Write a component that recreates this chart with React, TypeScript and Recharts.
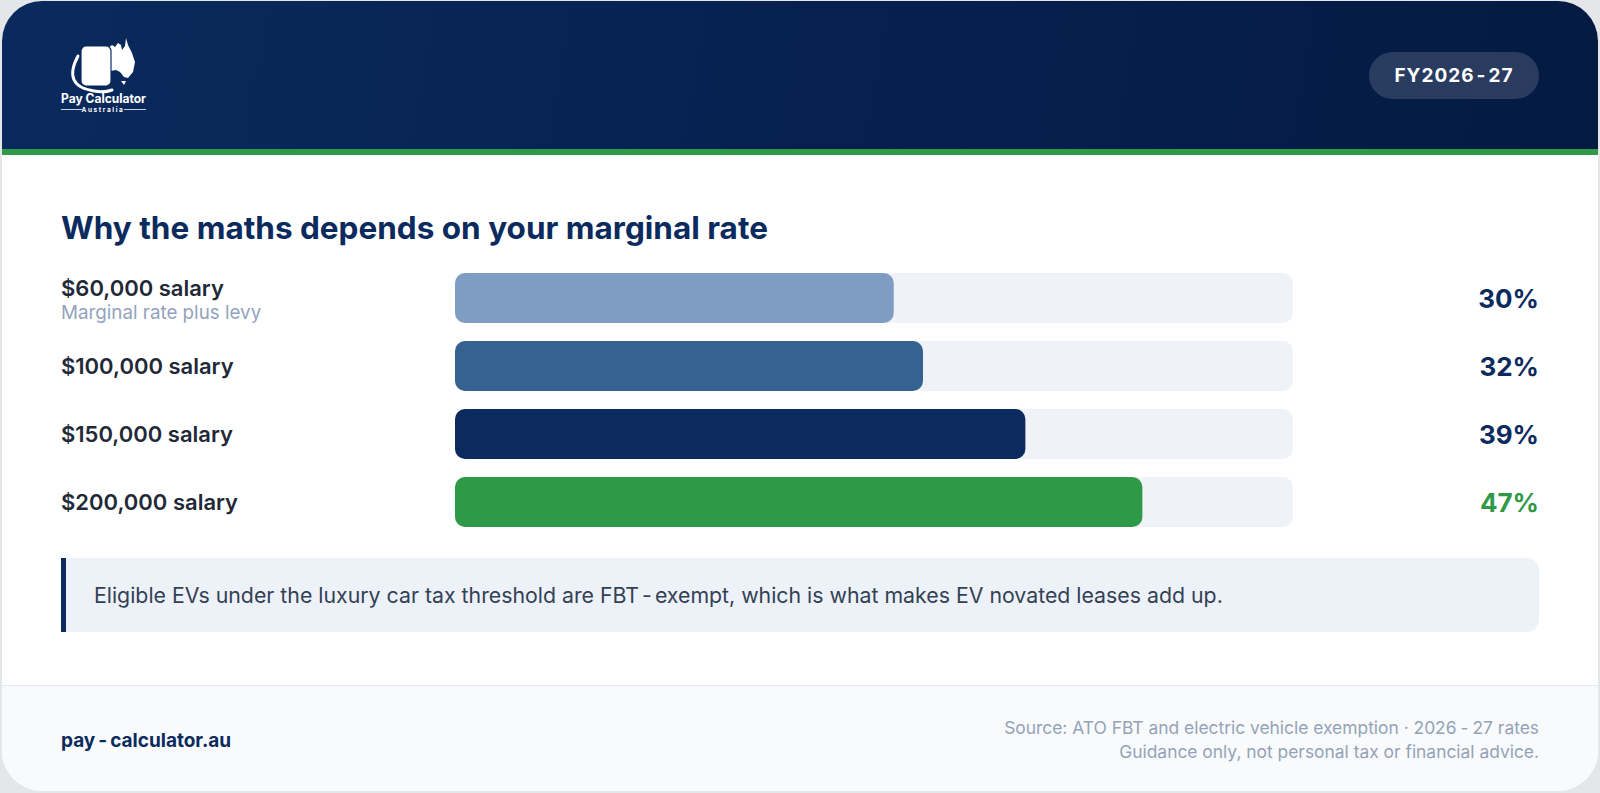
import { BarChart, Bar, XAxis, YAxis, Cell } from "recharts";

// salary bands and their marginal rate (incl. Medicare levy)
const SALARIES = ["$60,000 salary", "$100,000 salary", "$150,000 salary", "$200,000 salary"];
const SUBLABELS = ["Marginal rate plus levy", "", "", ""];
const RATES = [30, 32, 39, 47];
const RATE_MAX = 57.3;

const BAR_COLORS = ["#7f9dc2", "#356291", "#0b2a5e", "#2e9a48"];
const VALUE_COLORS = ["#0b2a5e", "#0b2a5e", "#0b2a5e", "#2e9a48"];

const rows = SALARIES.map((name, i) => ({
  name,
  rate: RATES[i],
  label: `${RATES[i]}%`,
}));

const FONT = "Inter, 'Noto Sans', sans-serif";
const LEFT_W = 394;
const RIGHT_W = 246;

// hyphen with a little air around it
const Dash = ({ gap = 3 }: { gap?: number }) => (
  <span style={{ margin: `0 ${gap}px` }}>-</span>
);

const SalaryTick = (props: any) => {
  const { x, y, payload } = props;
  const i = props.index ?? payload.index;
  const sub = SUBLABELS[i];
  return (
    <g>
      <text
        x={x - LEFT_W}
        y={sub ? y - 10 : y}
        dominantBaseline="central"
        fontFamily={FONT}
        fontSize={22}
        fontWeight={600}
        fill="#1f2937"
      >
        {payload.value}
      </text>
      {sub && (
        <text
          x={x - LEFT_W}
          y={y + 14}
          dominantBaseline="central"
          fontFamily={FONT}
          fontSize={18.8}
          fill="#93a3bd"
        >
          {sub}
        </text>
      )}
    </g>
  );
};

const RateTick = (props: any) => {
  const { x, y, payload } = props;
  const i = props.index ?? payload.index;
  return (
    <text
      x={x + RIGHT_W}
      y={y}
      textAnchor="end"
      dominantBaseline="central"
      fontFamily={FONT}
      fontSize={26}
      fontWeight={700}
      fill={VALUE_COLORS[i]}
    >
      {payload.value}
    </text>
  );
};

function Logo() {
  return (
    <svg
      width={1596}
      height={148}
      viewBox="2 1 1596 148"
      style={{ position: "absolute", left: 0, top: 0 }}
    >
      <path
        d="M99 58 L102 52 L108 48 L112 45 L115 47 L118 43 L121 45 L122 50 L125 46 L126 38 L128 45 L132 53 L135 62 L133 72 L128 78 L124 77 L120 72 L116 70 L110 71 L104 74 L100 72 L98 65 Z"
        fill="#fff"
      />
      <path d="M121 81 L126 81 L124 85 Z" fill="#fff" />
      <path
        d="M78 56 Q 62 86 94 91 Q 104 93 112 90"
        fill="none"
        stroke="#fff"
        strokeWidth={3}
        strokeLinecap="round"
      />
      <rect x={81} y={46} width={30} height={40} rx={5} fill="#fff" stroke="#0b2a5c" strokeWidth={1.2} />
      <text
        x={61}
        y={103}
        textLength={85}
        lengthAdjust="spacingAndGlyphs"
        fontFamily={FONT}
        fontSize={12.5}
        fontWeight={700}
        fill="#fff"
      >
        Pay Calculator
      </text>
      <line x1={61} y1={109.5} x2={82} y2={109.5} stroke="#fff" strokeWidth={0.8} />
      <line x1={124} y1={109.5} x2={146} y2={109.5} stroke="#fff" strokeWidth={0.8} />
      <text
        x={103}
        y={112}
        textAnchor="middle"
        fontFamily={FONT}
        fontSize={6.5}
        fontWeight={700}
        letterSpacing={1.6}
        fill="#fff"
      >
        Australia
      </text>
    </svg>
  );
}

export default function App() {
  return (
    <div
      style={{
        position: "absolute",
        left: 0,
        top: 0,
        width: 1600,
        height: 793,
        background: "#e4e6ea",
        fontFamily: FONT,
      }}
    >
      <div
        style={{
          position: "absolute",
          left: 2,
          top: 1,
          width: 1596,
          height: 790,
          borderRadius: 40,
          overflow: "hidden",
          background: "#fff",
        }}
      >
        {/* header */}
        <div
          style={{
            position: "absolute",
            left: 0,
            top: 0,
            width: 1596,
            height: 148,
            background: "linear-gradient(100deg, #0a2a5d 0%, #062150 50%, #041a42 100%)",
          }}
        >
          <Logo />
          <div
            style={{
              position: "absolute",
              left: 1367,
              top: 51,
              width: 170,
              height: 47,
              borderRadius: 24,
              background: "rgba(255,255,255,0.15)",
              color: "#fff",
              fontSize: 19,
              fontWeight: 700,
              letterSpacing: 1,
              display: "flex",
              alignItems: "center",
              justifyContent: "center",
              whiteSpace: "nowrap",
            }}
          >
            FY2026<Dash gap={2} />27
          </div>
        </div>
        <div
          style={{ position: "absolute", left: 0, top: 148, width: 1596, height: 6, background: "#2e9a48" }}
        />

        {/* title */}
        <div
          style={{
            position: "absolute",
            left: 59,
            top: 205,
            height: 44,
            lineHeight: "44px",
            fontSize: 31.5,
            fontWeight: 700,
            color: "#0b2a5e",
            whiteSpace: "nowrap",
          }}
        >
          Why the maths depends on your marginal rate
        </div>

        {/* bars */}
        <div style={{ position: "absolute", left: 59, top: 263 }}>
          <BarChart
            width={1478}
            height={272}
            data={rows}
            layout="vertical"
            margin={{ top: 0, right: 0, bottom: 0, left: 0 }}
          >
            <XAxis type="number" domain={[0, RATE_MAX]} hide />
            <YAxis
              type="category"
              dataKey="name"
              width={LEFT_W}
              axisLine={false}
              tickLine={false}
              tickSize={0}
              tickMargin={0}
              tick={<SalaryTick />}
            />
            <YAxis
              yAxisId="right"
              orientation="right"
              type="category"
              dataKey="label"
              width={RIGHT_W}
              axisLine={false}
              tickLine={false}
              tickSize={0}
              tickMargin={0}
              tick={<RateTick />}
            />
            <Bar
              dataKey="rate"
              barSize={50}
              radius={10}
              background={{ fill: "#eff3f7", radius: 10 }}
              isAnimationActive={false}
            >
              {rows.map((r, i) => (
                <Cell key={r.name} fill={BAR_COLORS[i]} />
              ))}
            </Bar>
          </BarChart>
        </div>

        {/* note */}
        <div
          style={{
            position: "absolute",
            left: 59,
            top: 557,
            width: 1478,
            height: 74,
            boxSizing: "border-box",
            background: "#edf2f8",
            borderLeft: "5px solid #0b2a5e",
            borderRadius: "0 12px 12px 0",
            paddingLeft: 28,
            display: "flex",
            alignItems: "center",
            fontSize: 21.3,
            color: "#334155",
            whiteSpace: "pre",
          }}
        >
          Eligible EVs under the luxury car tax threshold are FBT<Dash />exempt, which is what makes EV novated leases add up.
        </div>

        {/* footer */}
        <div
          style={{
            position: "absolute",
            left: 0,
            top: 684,
            width: 1596,
            height: 106,
            background: "#f8fafc",
            borderTop: "1px solid #e2e8f0",
          }}
        >
          <div
            style={{
              position: "absolute",
              left: 59,
              top: 42,
              lineHeight: "26px",
              fontSize: 19,
              fontWeight: 700,
              color: "#0b2a5e",
              whiteSpace: "nowrap",
            }}
          >
            pay<Dash />calculator.au
          </div>
          <div
            style={{
              position: "absolute",
              right: 59,
              top: 30,
              textAlign: "right",
              fontSize: 17.4,
              lineHeight: "24px",
              color: "#94a3b8",
              whiteSpace: "nowrap",
            }}
          >
            <div>
              Source: ATO FBT and electric vehicle exemption · 2026<Dash gap={4} />27 rates
            </div>
            <div>Guidance only, not personal tax or financial advice.</div>
          </div>
        </div>
      </div>
    </div>
  );
}
